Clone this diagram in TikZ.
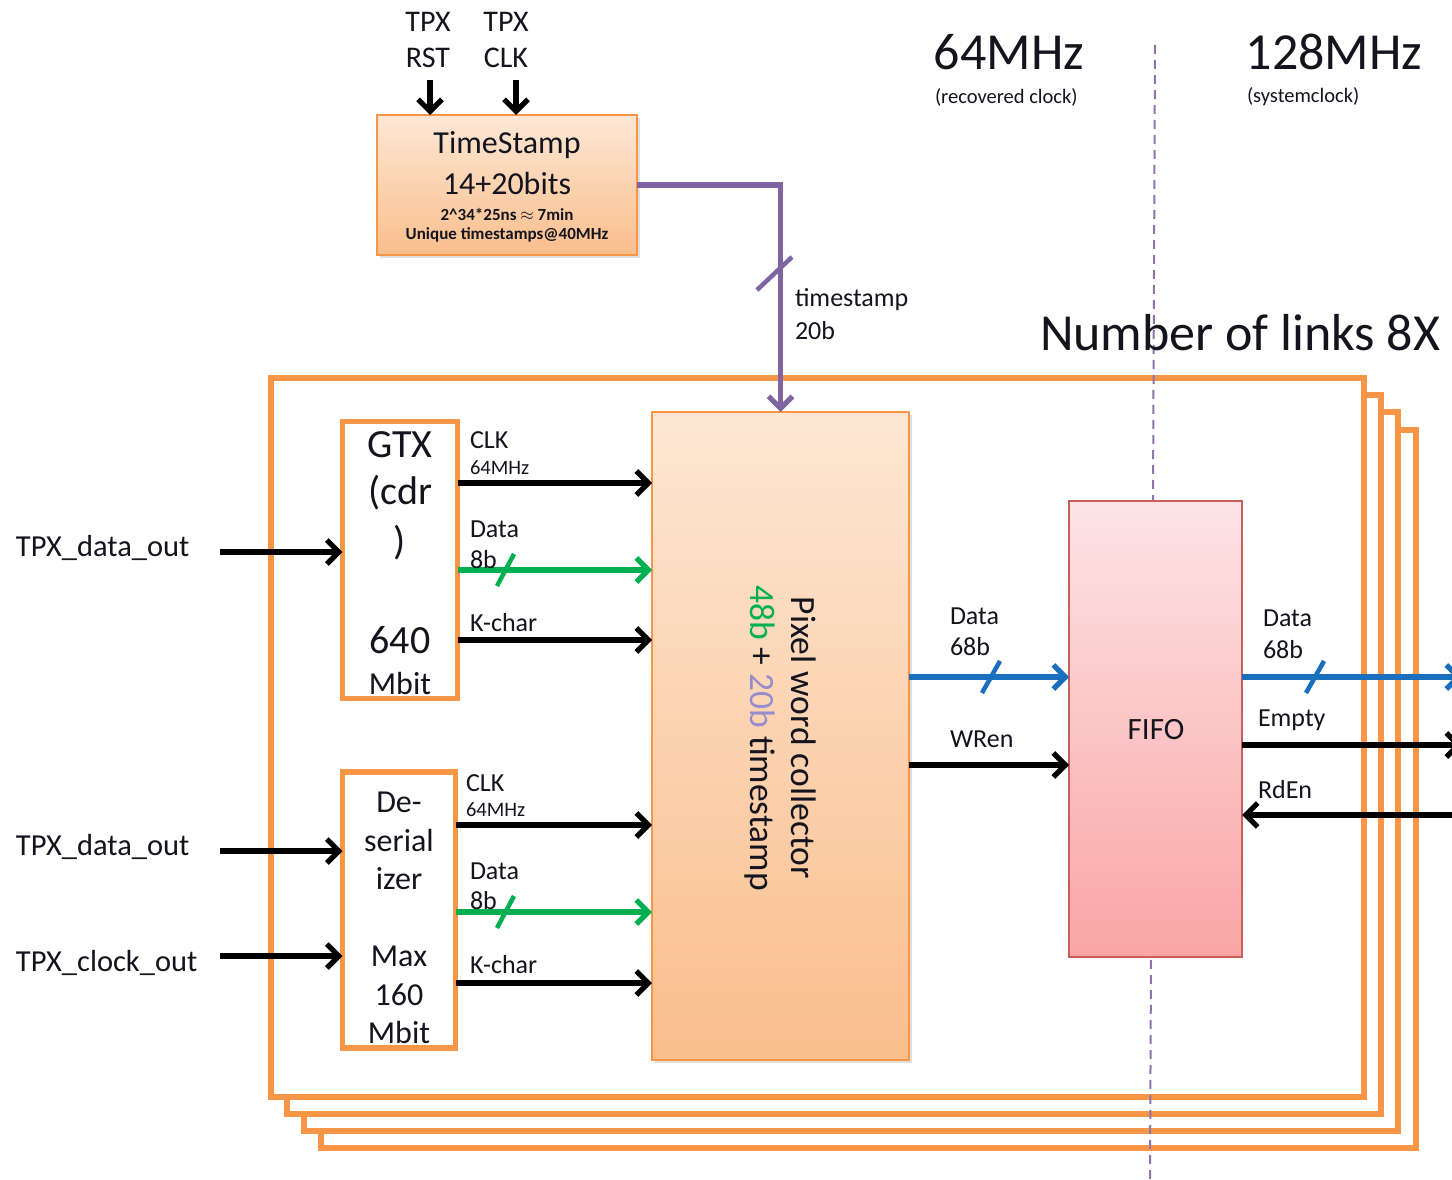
\documentclass[tikz,border=0pt]{standalone}
\usepackage{fontspec}
\setmainfont{Carlito}
\usetikzlibrary{arrows.meta,shadows}
\definecolor{orng}{RGB}{247,150,70}
\definecolor{bl}{RGB}{25,110,190}
\definecolor{grn}{RGB}{0,176,80}
\definecolor{purp}{RGB}{128,100,162}
\definecolor{lav}{RGB}{150,140,205}
\definecolor{fiforim}{RGB}{200,95,92}
\definecolor{txt}{RGB}{20,20,30}
\begin{document}
\begin{tikzpicture}[x=1pt,y=-1pt,
  every node/.style={inner sep=0pt,outer sep=0pt,text=txt},
  fs/.style={font=\fontsize{#1}{#1}\selectfont},
  arr/.style={line width=5.2pt,-{Straight Barb[length=12pt,width=24pt]}},
  parr/.style={arr,draw=purp},
  barr/.style={arr,draw=bl},
  garr/.style={arr,draw=grn},
  slashmark/.style={line width=4.5pt},
  frame/.style={draw=orng,line width=6.5pt,fill=white},
  outbox/.style={draw=orng,line width=5.5pt,fill=white,rectangle},
  tsbox/.style={draw=orng,line width=1.4pt,rectangle,
     top color={rgb,255:red,253;green,231;blue,212},
     bottom color={rgb,255:red,250;green,190;blue,140},
     drop shadow={opacity=0.25,shadow xshift=3pt,shadow yshift=-3pt}},
  fifobox/.style={draw=fiforim,line width=1.4pt,rectangle,
     top color={rgb,255:red,253;green,228;blue,230},
     bottom color={rgb,255:red,250;green,165;blue,165}},
  lbl/.style={fs=26,anchor=west},
  sml/.style={fs=20.5,anchor=west},
]
\useasboundingbox (0,0) rectangle (1452,1180);
\fill[white] (0,0) rectangle (1452,1180);

% stacked frames (back to front)
\node[frame,minimum width=1095pt,minimum height=718pt] (f4) at (868.5,789) {};
\node[frame,minimum width=1094pt,minimum height=719pt] (f3) at (851,771.5) {};
\node[frame,minimum width=1094pt,minimum height=719pt] (f2) at (834,754.5) {};
\node[frame,minimum width=1093pt,minimum height=719pt] (f1) at (817.5,737.5) {};

% clock domain divider
\coordinate (dtop) at (1155,45);
\coordinate (dbot) at (1150,1180);
\draw[purp!90,line width=2pt,dash pattern=on 9pt off 6pt] (dtop) -- (dbot);

% clock labels
\node[fs=52] (c64) at (1009,52) {64MHz};
\node[fs=20.5,anchor=west] (c64s) at (935,97) {(recovered clock)};
\node[fs=52] (c128) at (1334,52) {128MHz};
\node[fs=20.5,anchor=west] (c128s) at (1247,97) {(systemclock)};
\node[fs=52,anchor=west] (nlinks) at (1040,333) {Number of links 8X};

% timestamp block
\node[tsbox,minimum width=260pt,minimum height=140pt] (ts) at (507,185) {};
\node[fs=32] (ts1) at (507,145) {TimeStamp};
\node[fs=32] (ts2) at (507,184) {14+20bits};
\node[font=\bfseries\fontsize{17}{17}\selectfont] (ts3) at (507,214) {2\^{}34*25ns $\approx$ 7min};
\node[font=\bfseries\fontsize{17}{17}\selectfont] (ts4) at (507,235) {Unique timestamps@40MHz};

\node[fs=30] (tpx1) at (428,22) {TPX};
\node[fs=30] (rst) at (428,58) {RST};
\node[fs=30] (tpx2) at (506,22) {TPX};
\node[fs=30] (clk) at (506,58) {CLK};
\coordinate (rstin) at (430,80);
\coordinate (clkin) at (516,80);
\draw[arr] (rstin) -- (rstin |- ts.north);
\draw[arr] (clkin) -- (clkin |- ts.north);

% main blocks
\node[outbox,minimum width=115pt,minimum height=277pt] (gtx) at (400,560) {};
\node[fs=40] (g1) at (400,445) {GTX};
\node[fs=40] (g2) at (400,493) {(cdr};
\node[fs=40] (g3) at (400,543) {)};
\node[fs=40] (g4) at (400,640) {640};
\node[fs=32] (g5) at (400,684) {Mbit};

\node[outbox,minimum width=113pt,minimum height=276pt] (des) at (399,910) {};
\node[fs=32] (d1) at (399,802) {De-};
\node[fs=32] (d2) at (399,841) {serial};
\node[fs=32] (d3) at (399,879) {izer};
\node[fs=32] (d4) at (399,956) {Max};
\node[fs=32] (d5) at (399,995) {160};
\node[fs=32] (d6) at (399,1032) {Mbit};

\node[tsbox,minimum width=257pt,minimum height=648pt] (pwc) at (780.5,736) {};
\node[rotate=-90,align=center,font=\fontsize{35.5}{41}\selectfont] (pwct) at (780,738)
  {Pixel word collector\\{\color{grn}48b} + {\color{lav}20b} timestamp};

\node[fifobox,minimum width=173pt,minimum height=456pt] (fifo) at (1155.5,729) {};
\node[fs=31] (fifot) at (1156,730) {FIFO};

% timestamp bus
\draw[parr] (ts.east) -| (pwc.north);
\draw[slashmark,purp] (757,290) -- (792,257);
\node[lbl] (tsl1) at (795,300) {timestamp};
\node[lbl] (tsl2) at (795,331) {20b};

% inputs
\coordinate (in1) at (220,552);
\coordinate (in2) at (220,851);
\coordinate (in3) at (220,956);
\draw[arr] (in1) -- (gtx.west |- in1);
\draw[arr] (in2) -- (des.west |- in2);
\draw[arr] (in3) -- (des.west |- in3);
\node[fs=30.5,anchor=west] (i1) at (16,548) {TPX\_data\_out};
\node[fs=30.5,anchor=west] (i2) at (16,847) {TPX\_data\_out};
\node[fs=30.5,anchor=west] (i3) at (16,963) {TPX\_clock\_out};

% GTX -> collector
\draw[arr] (gtx.east |- 0,483) -- (pwc.west |- 0,483);
\draw[garr] (gtx.east |- 0,570) -- (pwc.west |- 0,570);
\draw[slashmark,grn] (497,586) -- (514,554);
\draw[arr] (gtx.east |- 0,640) -- (pwc.west |- 0,640);
\node[lbl] (l1) at (470,440) {CLK};
\node[sml] (l2) at (470,468) {64MHz};
\node[lbl] (l3) at (470,529) {Data};
\node[lbl] (l4) at (470,560) {8b};
\node[lbl] (l5) at (470,623) {K-char};

% Deserializer -> collector
\draw[arr] (des.east |- 0,825) -- (pwc.west |- 0,825);
\draw[garr] (des.east |- 0,912) -- (pwc.west |- 0,912);
\draw[slashmark,grn] (497,928) -- (514,896);
\draw[arr] (des.east |- 0,983) -- (pwc.west |- 0,983);
\node[lbl] (m1) at (466,783) {CLK};
\node[sml] (m2) at (466,810) {64MHz};
\node[lbl] (m3) at (470,871) {Data};
\node[lbl] (m4) at (470,901) {8b};
\node[lbl] (m5) at (470,965) {K-char};

% collector -> FIFO
\draw[barr] (pwc.east |- 0,677) -- (fifo.west |- 0,677);
\draw[slashmark,bl] (982,693) -- (1000,661);
\draw[arr] (pwc.east |- 0,765) -- (fifo.west |- 0,765);
\node[lbl] (n1) at (950,616) {Data};
\node[lbl] (n2) at (950,647) {68b};
\node[lbl] (n3) at (950,739) {WRen};

% FIFO outputs
\coordinate (o1) at (1462,677);
\coordinate (o2) at (1462,745);
\coordinate (o3) at (1462,815);
\draw[barr] (fifo.east |- o1) -- (o1);
\draw[slashmark,bl] (1306,693) -- (1324,661);
\draw[arr] (fifo.east |- o2) -- (o2);
\draw[arr] (o3) -- (fifo.east |- o3);
\node[lbl] (r1) at (1263,618) {Data};
\node[lbl] (r2) at (1263,650) {68b};
\node[lbl] (r3) at (1258,720) {Empty};
\node[lbl] (r4) at (1258,790) {RdEn};
\end{tikzpicture}
\end{document}
